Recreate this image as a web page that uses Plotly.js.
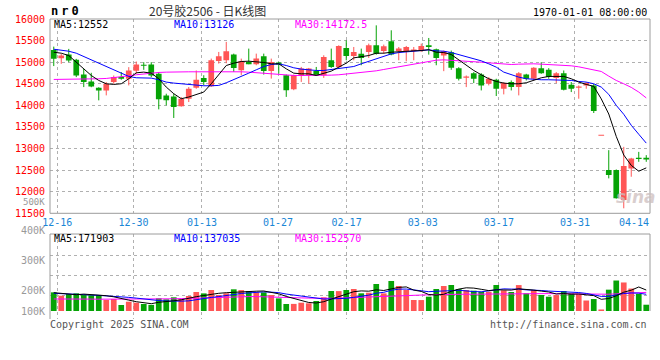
<!DOCTYPE html>
<html>
<head>
<meta charset="utf-8">
<script src="https://cdn.plot.ly/plotly-3.0.1.min.js"></script>
<style>
html,body{margin:0;padding:0;background:#ffffff;}
#chart{width:660px;height:360px;}
</style>
</head>
<body>
<div id="chart"></div>
<script>
// ---------------- data ----------------
const dates = [
 '2024-12-13','2024-12-16','2024-12-17','2024-12-18','2024-12-19','2024-12-20','2024-12-23','2024-12-24','2024-12-25','2024-12-26',
 '2024-12-27','2024-12-30','2024-12-31','2025-01-02','2025-01-03','2025-01-06','2025-01-07','2025-01-08','2025-01-09','2025-01-10',
 '2025-01-13','2025-01-14','2025-01-15','2025-01-16','2025-01-17','2025-01-20','2025-01-21','2025-01-22','2025-01-23','2025-01-24',
 '2025-01-27','2025-02-05','2025-02-06','2025-02-07','2025-02-10','2025-02-11','2025-02-12','2025-02-13','2025-02-14','2025-02-17',
 '2025-02-18','2025-02-19','2025-02-20','2025-02-21','2025-02-24','2025-02-25','2025-02-26','2025-02-27','2025-02-28','2025-03-03',
 '2025-03-04','2025-03-05','2025-03-06','2025-03-07','2025-03-10','2025-03-11','2025-03-12','2025-03-13','2025-03-14','2025-03-17',
 '2025-03-18','2025-03-19','2025-03-20','2025-03-21','2025-03-24','2025-03-25','2025-03-26','2025-03-27','2025-03-28','2025-03-31',
 '2025-04-01','2025-04-02','2025-04-03','2025-04-07','2025-04-08','2025-04-09','2025-04-10','2025-04-11','2025-04-14','2025-04-15'
];
const open = [15280,15092,15177,15054,14716,14554,14408,14346,14539,14654,14615,14800,14938,14946,14731,14231,14208,13977,14154,14408,
 14636,14443,15029,15044,15175,14813,15006,14952,15137,14798,14990,14697,14374,14682,14697,14798,14697,15044,14890,15329,
 15144,15198,15237,15391,15260,15484,15260,15260,15260,15275,15391,15299,15154,15231,14862,14639,14746,14716,14500,14593,
 14385,14539,14423,14716,14616,14862,14823,14631,14746,14477,14408,14462,14462,13308,12501,12501,11809,12539,12785,12785];
const high = [15360,15192,15308,15077,14846,14754,14420,14539,14692,14770,14885,15016,15000,15000,14770,14270,14270,14193,14424,14808,
 14697,15083,15237,15470,15198,15083,15314,15198,15198,15083,15006,14713,14713,14890,14867,14890,15160,15314,15391,15507,
 15352,15314,15430,15853,15407,15738,15352,15376,15352,15430,15561,15314,15269,15269,14885,14692,14770,14746,14654,14616,
 14539,14577,14770,14731,14885,15000,14862,14770,14808,14539,14462,14539,14500,13308,12962,12516,13039,12785,12923,12847];
const low = [14910,14962,15000,14654,14423,14420,14116,14231,14500,14593,14462,14731,14823,14654,13908,14000,13708,13970,14077,14385,
 14466,14428,14967,14975,14775,14698,14952,14929,14713,14620,14736,14196,14351,14543,14505,14682,14636,14867,14852,15044,
 15044,14929,15098,15175,15198,15160,15044,15021,15044,15237,15175,14929,14792,14823,14577,14423,14516,14346,14462,14216,
 14254,14346,14231,14577,14577,14731,14616,14516,14346,14308,14154,14385,13823,13308,12309,11840,11616,12347,12693,12693];
const close = [15080,15154,15039,14692,14539,14439,14346,14500,14654,14615,14808,14946,14923,14692,14139,14116,13962,14154,14385,14593,
 14543,15044,15137,15252,14867,15021,14952,15083,14798,15006,14944,14351,14697,14852,14852,14697,15121,14890,15376,15144,
 15237,15098,15391,15198,15368,15175,15314,15352,15291,15376,15353,15098,15254,14870,14616,14670,14616,14462,14616,14385,
 14516,14423,14746,14616,14870,14746,14654,14746,14362,14385,14439,14516,13870,13308,12386,11847,12593,12770,12755,12747];
const ma5 = [15231,15208,15154,15000,14846,14692,14577,14500,14485,14500,14616,14754,14770,14746,14616,14423,14270,14154,14193,14254,
 14308,14500,14710,14923,14977,15016,15023,15016,14993,14962,14962,14846,14746,14731,14731,14692,14746,14793,14885,14977,
 15100,15131,15154,15208,15208,15231,15246,15254,15262,15269,15290,15231,15223,15177,15054,14923,14808,14708,14616,14554,
 14516,14500,14500,14523,14577,14639,14670,14670,14670,14616,14539,14485,14439,14150,13800,13280,12850,12610,12475,12552];
const ma10 = [15300,15285,15254,15208,15131,15054,14977,14885,14808,14731,14670,14639,14639,14631,14593,14539,14516,14500,14485,14462,
 14454,14454,14462,14523,14593,14670,14746,14823,14900,14946,14962,14923,14870,14839,14815,14808,14808,14831,14846,14877,
 14900,14962,15023,15085,15146,15192,15223,15239,15254,15269,15285,15262,15254,15223,15177,15123,15085,15031,14962,14885,
 14770,14708,14654,14616,14600,14593,14593,14593,14593,14577,14554,14539,14500,14423,14254,14000,13793,13539,13331,13126];
const ma30 = [14600,14600,14608,14608,14608,14616,14616,14623,14639,14662,14685,14708,14731,14746,14762,14769,14777,14777,14777,14777,
 14777,14777,14785,14793,14785,14777,14769,14754,14739,14723,14716,14700,14693,14693,14693,14690,14693,14700,14708,14723,
 14739,14754,14777,14800,14831,14862,14892,14931,14962,14992,15031,15046,15054,15046,15031,15023,15008,15000,14985,14969,
 14954,14946,14954,14962,14962,14954,14946,14946,14939,14916,14892,14862,14831,14785,14677,14577,14500,14416,14308,14172.5];
const volume = [153000,125500,139400,145100,131200,130500,131800,90200,98400,49200,76300,68100,57400,50100,104100,95900,112300,97600,123000,155800,
 144500,172200,131200,145100,177900,171500,164000,153300,152800,130900,103500,57400,58200,68100,63100,82000,112300,164000,163200,172200,
 180400,145100,150100,221400,144600,246000,205000,172200,90200,89700,117300,180400,205000,213200,179800,171600,166500,158300,157900,213200,
 169700,155800,212600,145100,172200,131200,117300,130600,164000,145100,139000,86000,98000,12500,175000,250000,234000,184000,140000,51500];
const volMa5 = [150100,145100,135300,133700,138600,134500,135300,125500,116400,100000,89400,76300,69700,59900,71300,74600,83600,91800,106600,117300,
 127100,138600,145100,150100,154200,159900,158300,162400,164000,155000,141000,119700,100900,83600,69700,65600,76300,97600,117300,138600,
 158300,164800,162400,173800,168100,181200,193500,197600,171400,160700,135300,130400,136900,161500,179600,190200,187800,177900,167300,173800,
 173000,171400,182000,179600,171400,163200,155800,139400,143500,137800,139400,132800,126300,95900,102500,124600,154200,170600,196800,171903];
const volMa10 = [145100,143500,141000,137800,134500,131200,127900,124600,122200,119300,111900,105800,97600,88200,85700,82000,80000,80800,83200,94300,
 100900,111100,118500,128300,135700,143500,148400,153800,157000,154600,150500,139000,131600,123800,112300,103300,98000,99200,100500,104100,
 111900,120500,130000,145600,153300,169700,179200,180000,172600,164400,158300,162000,167300,166500,170200,162800,159100,157400,164400,176700,
 181600,179600,180000,173400,172600,168100,163600,160700,161500,154600,151300,144300,132800,119700,120100,132000,143500,148400,146400,137035];
const volMa30 = [98400,99200,98400,98400,97600,97600,96800,96800,95900,95100,95100,95900,95900,96800,97600,98400,100000,101700,104100,106600,
 109100,111500,114000,115600,116400,117300,118100,118100,117300,116400,114800,112300,109900,107400,105800,104100,103300,104100,105800,108200,
 110700,114000,117300,120500,123000,125500,127900,130400,132000,133700,134500,135300,136100,136900,137800,138600,139400,139400,140200,141000,
 141000,141900,142700,143500,143500,143500,142700,141900,141000,139400,138600,137800,136900,136500,137500,140500,144000,147300,150000,152570];
const xLabels = ['12-16','12-30','01-13','01-27','02-17','03-03','03-17','03-31','04-14'];
const priceTicks = [11500,12000,12500,13000,13500,14000,14500,15000,15500,16000];
const priceTickText = ['11500','12000','12500','13000','13500','14000','14500','15000','15500','16000'];
const volTickText = ['500K','400K','300K','200K','100K'];

// ---------------- styling / layout ----------------
const RED = '#ff5656', GREEN = '#06a306';
const MONO = 'DejaVu Sans Mono, monospace';
const GRID = '#b0b0b0', FRAME = '#9c9c9c';
const N = dates.length;
const xs = dates.map((d, i) => i);
const isUp = open.map((o, i) => close[i] >= o);
const colors = isUp.map(u => u ? RED : GREEN);
const MIN_BODY = 22;
const bodyBase = open.map((o, i) => {
  const lo = Math.min(o, close[i]), hi = Math.max(o, close[i]);
  return (hi - lo) < MIN_BODY ? (lo + hi) / 2 - MIN_BODY / 2 : lo;
});
const bodyLen = open.map((o, i) => Math.max(Math.abs(close[i] - o), MIN_BODY));
function wick(up) {
  const x = [], y = [];
  for (let i = 0; i < N; i++) {
    if (isUp[i] !== up) continue;
    x.push(i, i, null); y.push(low[i], high[i], null);
  }
  return {x, y};
}
const wu = wick(true), wd = wick(false);

// grid / label positions (layout)
const gridX = i => -0.541 + 1.01507 * i;
const LABEL_MAX = 77.37;
const labelIdx = xLabels.map(l => dates.findIndex(d => d.slice(5) === l));
const tickPos = labelIdx.map(i => Math.min(gridX(i), LABEL_MAX));
const gridPos = labelIdx.filter(i => gridX(i) < LABEL_MAX).map(gridX);

// vertical geometry (paper)
const MAIN_BOTTOM = 0.3523, VOL_TOP = 0.2833;
const VOL_RANGE = [-65600, 631400];
const volToPaper = v => VOL_TOP * (v - VOL_RANGE[0]) / (VOL_RANGE[1] - VOL_RANGE[0]);
const volTickPos = [893000, 658500, 414900, 166500, 0];
const volGrid = [131200, 295200, 459200];

const traces = [
  {type:'scatter', mode:'lines', x:wu.x, y:wu.y, line:{color:RED, width:1}, hoverinfo:'skip', xaxis:'x', yaxis:'y'},
  {type:'scatter', mode:'lines', x:wd.x, y:wd.y, line:{color:GREEN, width:1}, hoverinfo:'skip', xaxis:'x', yaxis:'y'},
  {type:'bar', x:xs, y:bodyLen, base:bodyBase, width:0.76, marker:{color:colors, line:{width:0}}, xaxis:'x', yaxis:'y'},
  {type:'scatter', mode:'lines', x:xs, y:ma30, line:{color:'#ff00ff', width:1}, xaxis:'x', yaxis:'y'},
  {type:'scatter', mode:'lines', x:xs, y:ma10, line:{color:'#0000ff', width:1}, xaxis:'x', yaxis:'y'},
  {type:'scatter', mode:'lines', x:xs, y:ma5, line:{color:'#000000', width:1}, xaxis:'x', yaxis:'y'},
  {type:'bar', x:xs, y:volume, width:0.76, marker:{color:colors, line:{width:0}}, xaxis:'x2', yaxis:'y2'},
  {type:'scatter', mode:'lines', x:xs, y:volMa30, line:{color:'#ff00ff', width:1}, xaxis:'x2', yaxis:'y2'},
  {type:'scatter', mode:'lines', x:xs, y:volMa10, line:{color:'#0000ff', width:1}, xaxis:'x2', yaxis:'y2'},
  {type:'scatter', mode:'lines', x:xs, y:volMa5, line:{color:'#000000', width:1}, xaxis:'x2', yaxis:'y2'}
];

const minorX = {tickmode:'array', tickvals:gridPos, showgrid:true, gridcolor:GRID, griddash:'dot', gridwidth:1, ticks:''};
const fmt = v => String(v);
const ann = (text, x, y, xanchor, color, size, extra) => Object.assign({
  text, x, y, xref:'paper', yref:'paper', xanchor, yanchor:'middle', showarrow:false, borderpad:0,
  font:{family:MONO, size:size, color:color}
}, extra || {});

const annotations = [
  ann('<b><span style="letter-spacing:3px">nr0</span></b>', 0, 1.027, 'left', '#000000', 12),
  ann('20号胶2506 - 日K线图', 0.2617, 1.0283, 'center', '#333333', 12, {font:{family:'Noto Sans CJK SC, sans-serif', size:12, color:'#333333'}}),
  ann('1970-01-01 08:00:00', 0.9967, 1.0233, 'right', '#000000', 10),
  ann('MA5:' + fmt(ma5[N-1]), 0.005, 0.9833, 'left', '#000000', 10),
  ann('MA10:' + fmt(ma10[N-1]), 0.2055, 0.9833, 'left', '#0000ff', 10),
  ann('MA30:' + fmt(ma30[N-1]), 0.4067, 0.9833, 'left', '#ff00ff', 10),
  ann('MA5:' + fmt(volMa5[N-1]), 0.005, 0.2667, 'left', '#000000', 10),
  ann('MA10:' + fmt(volMa10[N-1]), 0.2055, 0.2667, 'left', '#0000ff', 10),
  ann('MA30:' + fmt(volMa30[N-1]), 0.4067, 0.2667, 'left', '#ff00ff', 10),
  ann('Copyright 2025 SINA.COM', -0.002, -0.0167, 'left', '#555555', 10),
  ann('http://finance.sina.com.cn', 0.9972, -0.0167, 'right', '#555555', 10),
  ann('<i><b>sina</b></i>', 0.9767, 0.4067, 'center', 'rgba(205,190,190,0.75)', 17, {font:{family:'DejaVu Sans, sans-serif', size:17, color:'rgba(205,190,190,0.75)'}})
];
volTickText.forEach((t, k) => {
  annotations.push(ann(t, 0, volToPaper(volTickPos[k]), 'right', '#999999', k === 0 ? 9 : 10, {xshift:-4}));
});

const shapes = [
  {type:'rect', xref:'paper', yref:'paper', x0:0, x1:1, y0:MAIN_BOTTOM, y1:1, line:{color:FRAME, width:1}},
  {type:'line', xref:'paper', yref:'paper', x0:0, x1:1, y0:VOL_TOP, y1:VOL_TOP, line:{color:FRAME, width:1}},
  {type:'line', xref:'paper', yref:'paper', x0:0, x1:0, y0:0, y1:VOL_TOP, line:{color:FRAME, width:1}},
  {type:'line', xref:'paper', yref:'paper', x0:1, x1:1, y0:volToPaper(0), y1:VOL_TOP, line:{color:FRAME, width:1}}
];

const layout = {
  width:660, height:360,
  margin:{l:50, r:10, t:19, b:41, pad:0},
  paper_bgcolor:'#ffffff', plot_bgcolor:'rgba(0,0,0,0)',
  showlegend:false, barmode:'overlay', hovermode:false,
  xaxis:{domain:[0,1], range:[-0.5,79.5], anchor:'y', tickmode:'array', tickvals:tickPos, ticktext:xLabels,
    showgrid:false, zeroline:false, showline:false, ticks:'', ticklabelstandoff:2,
    tickfont:{family:MONO, size:10, color:'#1a86d6'}, minor:minorX, fixedrange:true},
  yaxis:{domain:[MAIN_BOTTOM,1], range:[11500,16000], anchor:'x', tickmode:'array', tickvals:priceTicks, ticktext:priceTickText,
    showgrid:true, gridcolor:GRID, griddash:'dot', gridwidth:1, zeroline:false, showline:false, ticks:'',
    ticklabelstandoff:4, tickfont:{family:MONO, size:10, color:'#ff0000'}, fixedrange:true},
  xaxis2:{domain:[0,1], range:[-0.5,79.5], matches:'x', anchor:'y2', showticklabels:false, showgrid:false,
    zeroline:false, showline:false, ticks:'', minor:minorX, fixedrange:true},
  yaxis2:{domain:[0,VOL_TOP], range:VOL_RANGE, anchor:'x2', tickmode:'array', tickvals:volGrid, showticklabels:false,
    showgrid:true, gridcolor:GRID, griddash:'dot', gridwidth:1, zeroline:false, showline:false, ticks:'', fixedrange:true},
  annotations:annotations,
  shapes:shapes
};

Plotly.newPlot('chart', traces, layout, {displayModeBar:false, staticPlot:true});
</script>
</body>
</html>
